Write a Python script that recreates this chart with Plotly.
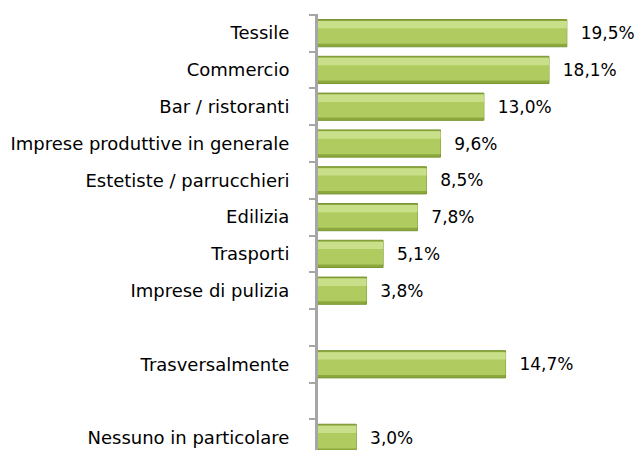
import plotly.graph_objects as go

categories = ["Tessile", "Commercio", "Bar / ristoranti", "Imprese produttive in generale",
              "Estetiste / parrucchieri", "Edilizia", "Trasporti", "Imprese di pulizia",
              " ", "Trasversalmente", "  ", "Nessuno in particolare"]
values = [19.5, 18.1, 13.0, 9.6, 8.5, 7.8, 5.1, 3.8, None, 14.7, None, 3.0]

FONT = "DejaVu Sans"

fig = go.Figure()
# base (dark edge)
fig.add_trace(go.Bar(
    y=categories, x=values, orientation="h", width=0.74, offset=-0.37,
    marker=dict(color="#8CA83E", line=dict(color="#7A9632", width=1)),
    texttemplate="  %{x:.1f}%", textposition="outside", constraintext="none",
    cliponaxis=False, textfont=dict(family=FONT, size=17, color="#000000"),
    hoverinfo="skip", showlegend=False,
))
# body
fig.add_trace(go.Bar(
    y=categories, x=values, orientation="h", width=0.62, offset=-0.33,
    marker=dict(color="#B0CC60", line=dict(width=0)),
    hoverinfo="skip", showlegend=False,
))
# highlight
fig.add_trace(go.Bar(
    y=categories, x=values, orientation="h", width=0.2, offset=-0.33,
    marker=dict(color="#CADF8A", line=dict(width=0)),
    hoverinfo="skip", showlegend=False,
))

fig.update_layout(
    width=637, height=450,
    margin=dict(l=318, r=0, t=14, b=0),
    barmode="overlay",
    separators=",.",
    paper_bgcolor="white", plot_bgcolor="white",
    font=dict(family=FONT, size=18, color="#000000"),
)
fig.update_xaxes(range=[0, 25], visible=False, showgrid=False)
fig.update_yaxes(
    type="category", categoryorder="array", categoryarray=categories,
    range=[11.33, -0.52], showline=True, linecolor="#A6A6A6", linewidth=3,
    ticks="outside", tickson="boundaries", ticklen=6, tickcolor="#A6A6A6", tickwidth=2,
    ticklabelstandoff=22, showgrid=False, zeroline=False,
    tickfont=dict(family=FONT, size=18, color="#000000"),
)

fig.write_html(
    "out.html",
    config={"displayModeBar": False},
    post_script="document.body.style.margin='0';document.body.style.overflow='hidden';",
)
